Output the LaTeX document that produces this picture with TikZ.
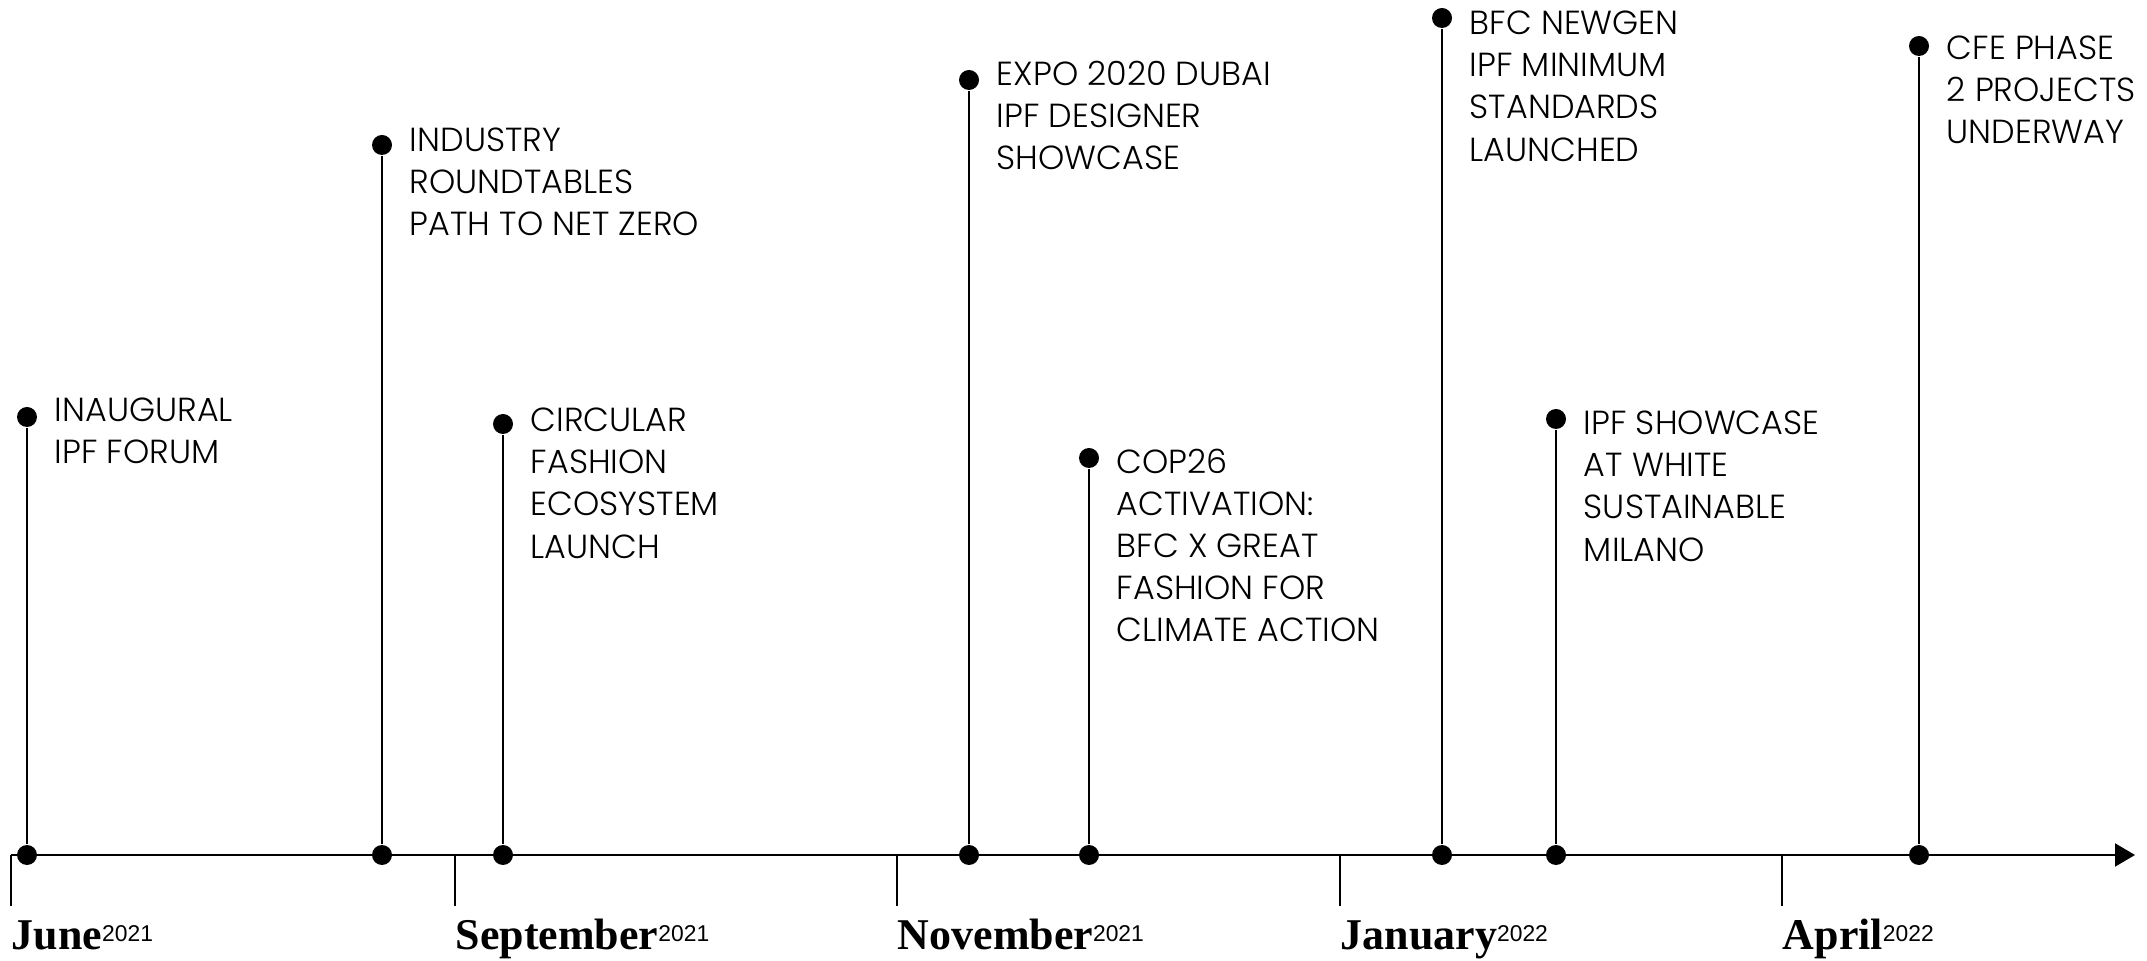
\documentclass[tikz,border=0pt]{standalone}
\usepackage{fontspec}
\usetikzlibrary{arrows.meta}
\newfontfamily\eventfont{Poppins Light}
\newfontfamily\monthfont{Liberation Serif}
\newfontfamily\yearfont{Liberation Sans}
\newcommand{\when}[2]{#1{\yearfont\mdseries\fontsize{6.5}{7}\selectfont\raisebox{2.2pt}{#2}}}
\tikzset{
	dot/.style={circle, fill=black, inner sep=0pt, minimum size=0.2cm},
	event/.style={anchor=north west, align=left, inner sep=0pt, xshift=0.27cm, font=\eventfont\fontsize{9.5}{12}\selectfont},
	month/.style={anchor=base west, inner sep=0pt, font=\monthfont\bfseries\fontsize{12.5}{14}\selectfont},
}

\begin{document}
\begin{tikzpicture}[>={Triangle[length=0.2cm, width=0.23cm]}, line width=0.5pt]
	\def\axisy{1.06}
	\def\ticky{0.55}
	\def\labely{0.12}
	
	\useasboundingbox (0,0) rectangle (21.47,9.61);
	
	\coordinate (start) at (0.11,\axisy);
	\coordinate (end) at (21.35,\axisy);
	\draw[->, line width=0.6pt] (start) -- (end);
	
	% months
	\coordinate (jun) at (0.11,\axisy);
	\coordinate (jun low) at (0.11,\ticky);
	\draw (jun) -- (jun low);
	\node[month] (jun label) at (0.11,\labely) {\when{June}{2021}};
	
	\coordinate (sep) at (4.55,\axisy);
	\coordinate (sep low) at (4.55,\ticky);
	\draw (sep) -- (sep low);
	\node[month] (sep label) at (4.55,\labely) {\when{September}{2021}};
	
	\coordinate (nov) at (8.97,\axisy);
	\coordinate (nov low) at (8.97,\ticky);
	\draw (nov) -- (nov low);
	\node[month] (nov label) at (8.97,\labely) {\when{November}{2021}};
	
	\coordinate (jan) at (13.40,\axisy);
	\coordinate (jan low) at (13.40,\ticky);
	\draw (jan) -- (jan low);
	\node[month] (jan label) at (13.40,\labely) {\when{January}{2022}};
	
	\coordinate (apr) at (17.82,\axisy);
	\coordinate (apr low) at (17.82,\ticky);
	\draw (apr) -- (apr low);
	\node[month] (apr label) at (17.82,\labely) {\when{April}{2022}};
	
	% events
	\node[dot] (b1) at (0.27,\axisy) {};
	\node[dot] (e1) at (0.27,5.44) {};
	\draw (b1) -- (e1);
	\node[event, yshift=0.20cm] (t1) at (e1) {INAUGURAL\\IPF FORUM};
	
	\node[dot] (b2) at (3.82,\axisy) {};
	\node[dot] (e2) at (3.82,8.16) {};
	\draw (b2) -- (e2);
	\node[event, yshift=0.18cm] (t2) at (e2) {INDUSTRY\\ROUNDTABLES\\PATH TO NET ZERO};
	
	\node[dot] (b3) at (5.03,\axisy) {};
	\node[dot] (e3) at (5.03,5.37) {};
	\draw (b3) -- (e3);
	\node[event, yshift=0.17cm] (t3) at (e3) {CIRCULAR\\FASHION\\ECOSYSTEM\\LAUNCH};
	
	\node[dot] (b4) at (9.69,\axisy) {};
	\node[dot] (e4) at (9.69,8.81) {};
	\draw (b4) -- (e4);
	\node[event, yshift=0.20cm] (t4) at (e4) {EXPO 2020 DUBAI\\IPF DESIGNER\\SHOWCASE};
	
	\node[dot] (b5) at (10.89,\axisy) {};
	\node[dot] (e5) at (10.89,5.03) {};
	\draw (b5) -- (e5);
	\node[event, yshift=0.10cm] (t5) at (e5) {COP26\\ACTIVATION:\\BFC X GREAT\\FASHION FOR\\CLIMATE ACTION};
	
	\node[dot] (b6) at (14.42,\axisy) {};
	\node[dot] (e6) at (14.42,9.43) {};
	\draw (b6) -- (e6);
	\node[event, yshift=0.08cm] (t6) at (e6) {BFC NEWGEN\\IPF MINIMUM\\STANDARDS\\LAUNCHED};
	
	\node[dot] (b7) at (15.56,\axisy) {};
	\node[dot] (e7) at (15.56,5.42) {};
	\draw (b7) -- (e7);
	\node[event, yshift=0.09cm] (t7) at (e7) {IPF SHOWCASE\\AT WHITE\\SUSTAINABLE\\MILANO};
	
	\node[dot] (b8) at (19.19,\axisy) {};
	\node[dot] (e8) at (19.19,9.15) {};
	\draw (b8) -- (e8);
	\node[event, yshift=0.11cm] (t8) at (e8) {CFE PHASE\\2 PROJECTS\\UNDERWAY};
\end{tikzpicture}
\end{document}
